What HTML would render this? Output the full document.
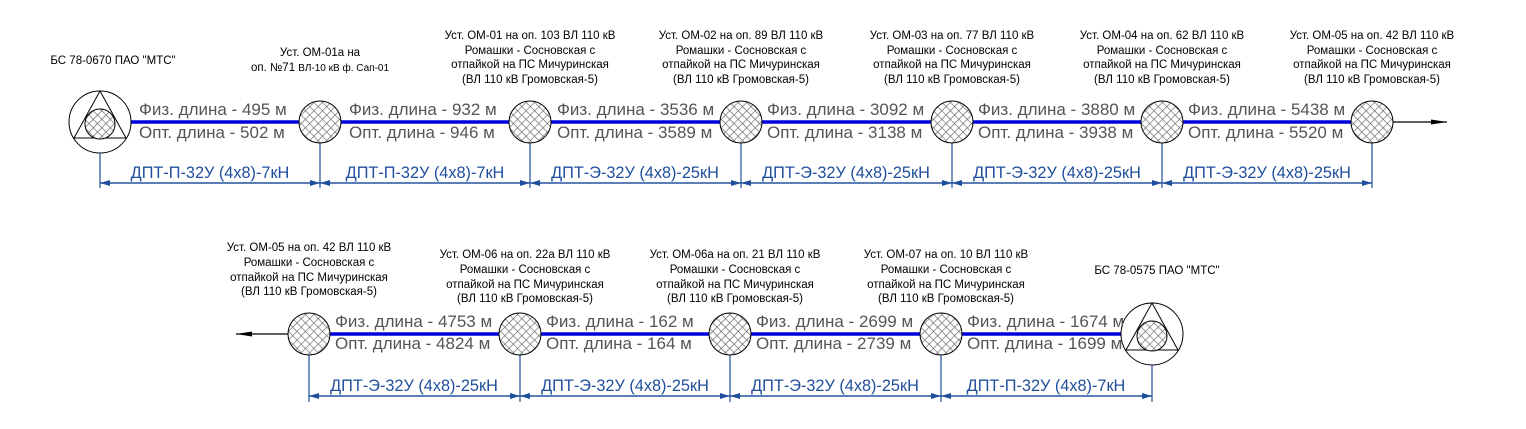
<!DOCTYPE html>
<html><head><meta charset="utf-8"><style>
html,body{margin:0;padding:0;background:#fff;}
svg{display:block;font-family:"Liberation Sans",Arial,sans-serif;}
.h{font-size:11.5px;fill:#000;text-anchor:middle;}
.l{font-size:17px;fill:#555;}
.d{font-size:16.3px;fill:#1f4e9c;text-anchor:middle;}
.n{fill:url(#hatch);stroke:#000;stroke-width:1;}
.t{stroke:#1f4e9c;stroke-width:1.2;}
</style></head><body>
<svg width="1526" height="429" viewBox="0 0 1526 429" xmlns="http://www.w3.org/2000/svg">
<defs>
<pattern id="hatch" width="6" height="6" patternUnits="userSpaceOnUse" patternTransform="rotate(45)">
<rect width="6" height="6" fill="#fff"/>
<line x1="0" y1="0" x2="0" y2="6" stroke="#666" stroke-width="1.3"/>
<line x1="0" y1="0" x2="6" y2="0" stroke="#666" stroke-width="1.3"/>
</pattern>
<marker id="ar" markerWidth="10" markerHeight="6" refX="10" refY="3" orient="auto" markerUnits="userSpaceOnUse"><path d="M0,0 L10,3 L0,6 Z" fill="#1f4e9c"/></marker>
<marker id="bk" markerWidth="16" markerHeight="6" refX="16" refY="3" orient="auto" markerUnits="userSpaceOnUse"><path d="M0,0.5 L16,3 L0,5.5 Z" fill="#000"/></marker>
</defs>

<!-- ROW 1 -->
<line x1="131" y1="122" x2="1351" y2="122" stroke="#0000dd" stroke-width="3.5"/>
<line x1="1393" y1="122" x2="1447" y2="122" stroke="#000" stroke-width="1.2" marker-end="url(#bk)"/>
<circle cx="100" cy="122" r="31" fill="#fff" stroke="#000"/>
<path d="M100,91 L126,138 L74,138 Z" fill="none" stroke="#000"/>
<circle cx="100" cy="124" r="15" class="n"/>
<g class="t">
<line x1="100" y1="153" x2="100" y2="188"/>
<line x1="320" y1="143" x2="320" y2="188"/>
<line x1="530" y1="143" x2="530" y2="188"/>
<line x1="741" y1="143" x2="741" y2="188"/>
<line x1="952" y1="143" x2="952" y2="188"/>
<line x1="1162" y1="143" x2="1162" y2="188"/>
<line x1="1372" y1="143" x2="1372" y2="188"/>
</g>
<g class="t" fill="none">
<line x1="100" y1="183" x2="320" y2="183" marker-end="url(#ar)"/>
<line x1="320" y1="183" x2="530" y2="183" marker-end="url(#ar)"/>
<line x1="530" y1="183" x2="741" y2="183" marker-end="url(#ar)"/>
<line x1="741" y1="183" x2="952" y2="183" marker-end="url(#ar)"/>
<line x1="952" y1="183" x2="1162" y2="183" marker-end="url(#ar)"/>
<line x1="1162" y1="183" x2="1372" y2="183" marker-end="url(#ar)"/>
<line x1="320" y1="183" x2="100" y2="183" marker-end="url(#ar)"/>
<line x1="530" y1="183" x2="320" y2="183" marker-end="url(#ar)"/>
<line x1="741" y1="183" x2="530" y2="183" marker-end="url(#ar)"/>
<line x1="952" y1="183" x2="741" y2="183" marker-end="url(#ar)"/>
<line x1="1162" y1="183" x2="952" y2="183" marker-end="url(#ar)"/>
<line x1="1372" y1="183" x2="1162" y2="183" marker-end="url(#ar)"/>
</g>
<circle cx="320" cy="122" r="21" class="n"/>
<circle cx="530" cy="122" r="21" class="n"/>
<circle cx="741" cy="122" r="21" class="n"/>
<circle cx="952" cy="122" r="21" class="n"/>
<circle cx="1162" cy="122" r="21" class="n"/>
<circle cx="1372" cy="122" r="21" class="n"/>

<text class="l" x="139" y="115">Физ. длина - 495 м</text><text class="l" x="139" y="138">Опт. длина - 502 м</text>
<text class="l" x="349" y="115">Физ. длина - 932 м</text><text class="l" x="349" y="138">Опт. длина - 946 м</text>
<text class="l" x="557" y="115">Физ. длина - 3536 м</text><text class="l" x="557" y="138">Опт. длина - 3589 м</text>
<text class="l" x="767" y="115">Физ. длина - 3092 м</text><text class="l" x="767" y="138">Опт. длина - 3138 м</text>
<text class="l" x="978" y="115">Физ. длина - 3880 м</text><text class="l" x="978" y="138">Опт. длина - 3938 м</text>
<text class="l" x="1188" y="115">Физ. длина - 5438 м</text><text class="l" x="1188" y="138">Опт. длина - 5520 м</text>

<text class="d" x="210" y="178">ДПТ-П-32У (4х8)-7кН</text>
<text class="d" x="425" y="178">ДПТ-П-32У (4х8)-7кН</text>
<text class="d" x="635" y="178">ДПТ-Э-32У (4х8)-25кН</text>
<text class="d" x="846" y="178">ДПТ-Э-32У (4х8)-25кН</text>
<text class="d" x="1057" y="178">ДПТ-Э-32У (4х8)-25кН</text>
<text class="d" x="1267" y="178">ДПТ-Э-32У (4х8)-25кН</text>

<text class="h" x="113" y="64">БС 78-0670 ПАО "МТС"</text>
<text class="h" x="320" y="56">Уст. ОМ-01а на</text>
<text class="h" x="320" y="71">оп. №71 <tspan font-size="10">ВЛ-10 кВ ф. Сап-01</tspan></text>
<g class="h">
<text x="530" y="39">Уст. ОМ-01 на оп. 103 ВЛ 110 кВ</text><text x="530" y="54">Ромашки - Сосновская с</text><text x="530" y="68">отпайкой на ПС Мичуринская</text><text x="530" y="83">(ВЛ 110 кВ Громовская-5)</text>
<text x="741" y="39">Уст. ОМ-02 на оп. 89 ВЛ 110 кВ</text><text x="741" y="54">Ромашки - Сосновская с</text><text x="741" y="68">отпайкой на ПС Мичуринская</text><text x="741" y="83">(ВЛ 110 кВ Громовская-5)</text>
<text x="952" y="39">Уст. ОМ-03 на оп. 77 ВЛ 110 кВ</text><text x="952" y="54">Ромашки - Сосновская с</text><text x="952" y="68">отпайкой на ПС Мичуринская</text><text x="952" y="83">(ВЛ 110 кВ Громовская-5)</text>
<text x="1162" y="39">Уст. ОМ-04 на оп. 62 ВЛ 110 кВ</text><text x="1162" y="54">Ромашки - Сосновская с</text><text x="1162" y="68">отпайкой на ПС Мичуринская</text><text x="1162" y="83">(ВЛ 110 кВ Громовская-5)</text>
<text x="1372" y="39">Уст. ОМ-05 на оп. 42 ВЛ 110 кВ</text><text x="1372" y="54">Ромашки - Сосновская с</text><text x="1372" y="68">отпайкой на ПС Мичуринская</text><text x="1372" y="83">(ВЛ 110 кВ Громовская-5)</text>
</g>

<!-- ROW 2 -->
<line x1="330" y1="334" x2="1121" y2="334" stroke="#0000dd" stroke-width="3.5"/>
<line x1="288" y1="334" x2="236" y2="334" stroke="#000" stroke-width="1.2" marker-end="url(#bk)"/>
<circle cx="1152" cy="334" r="31" fill="#fff" stroke="#000"/>
<path d="M1152,303 L1178,350 L1126,350 Z" fill="none" stroke="#000"/>
<circle cx="1152" cy="336" r="15" class="n"/>
<g class="t">
<line x1="309" y1="355" x2="309" y2="402"/>
<line x1="520" y1="355" x2="520" y2="402"/>
<line x1="730" y1="355" x2="730" y2="402"/>
<line x1="941" y1="355" x2="941" y2="402"/>
<line x1="1152" y1="365" x2="1152" y2="402"/>
</g>
<g class="t" fill="none">
<line x1="309" y1="396" x2="520" y2="396" marker-end="url(#ar)"/>
<line x1="520" y1="396" x2="730" y2="396" marker-end="url(#ar)"/>
<line x1="730" y1="396" x2="941" y2="396" marker-end="url(#ar)"/>
<line x1="941" y1="396" x2="1152" y2="396" marker-end="url(#ar)"/>
<line x1="520" y1="396" x2="309" y2="396" marker-end="url(#ar)"/>
<line x1="730" y1="396" x2="520" y2="396" marker-end="url(#ar)"/>
<line x1="941" y1="396" x2="730" y2="396" marker-end="url(#ar)"/>
<line x1="1152" y1="396" x2="941" y2="396" marker-end="url(#ar)"/>
</g>
<circle cx="309" cy="334" r="21" class="n"/>
<circle cx="520" cy="334" r="21" class="n"/>
<circle cx="730" cy="334" r="21" class="n"/>
<circle cx="941" cy="334" r="21" class="n"/>

<text class="l" x="335" y="327">Физ. длина - 4753 м</text><text class="l" x="335" y="349">Опт. длина - 4824 м</text>
<text class="l" x="546" y="327">Физ. длина - 162 м</text><text class="l" x="546" y="349">Опт. длина - 164 м</text>
<text class="l" x="756" y="327">Физ. длина - 2699 м</text><text class="l" x="756" y="349">Опт. длина - 2739 м</text>
<text class="l" x="967" y="327">Физ. длина - 1674 м</text><text class="l" x="967" y="349">Опт. длина - 1699 м</text>

<text class="d" x="414" y="391">ДПТ-Э-32У (4х8)-25кН</text>
<text class="d" x="625" y="391">ДПТ-Э-32У (4х8)-25кН</text>
<text class="d" x="835" y="391">ДПТ-Э-32У (4х8)-25кН</text>
<text class="d" x="1046" y="391">ДПТ-П-32У (4х8)-7кН</text>

<g class="h">
<text x="309" y="251">Уст. ОМ-05 на оп. 42 ВЛ 110 кВ</text><text x="309" y="266">Ромашки - Сосновская с</text><text x="309" y="281">отпайкой на ПС Мичуринская</text><text x="309" y="295">(ВЛ 110 кВ Громовская-5)</text>
<text x="525" y="258">Уст. ОМ-06 на оп. 22а ВЛ 110 кВ</text><text x="525" y="273">Ромашки - Сосновская с</text><text x="525" y="288">отпайкой на ПС Мичуринская</text><text x="525" y="302">(ВЛ 110 кВ Громовская-5)</text>
<text x="735" y="258">Уст. ОМ-06а на оп. 21 ВЛ 110 кВ</text><text x="735" y="273">Ромашки - Сосновская с</text><text x="735" y="288">отпайкой на ПС Мичуринская</text><text x="735" y="302">(ВЛ 110 кВ Громовская-5)</text>
<text x="946" y="258">Уст. ОМ-07 на оп. 10 ВЛ 110 кВ</text><text x="946" y="273">Ромашки - Сосновская с</text><text x="946" y="288">отпайкой на ПС Мичуринская</text><text x="946" y="302">(ВЛ 110 кВ Громовская-5)</text>
<text x="1157" y="274">БС 78-0575 ПАО "МТС"</text>
</g>
</svg>
</body></html>
